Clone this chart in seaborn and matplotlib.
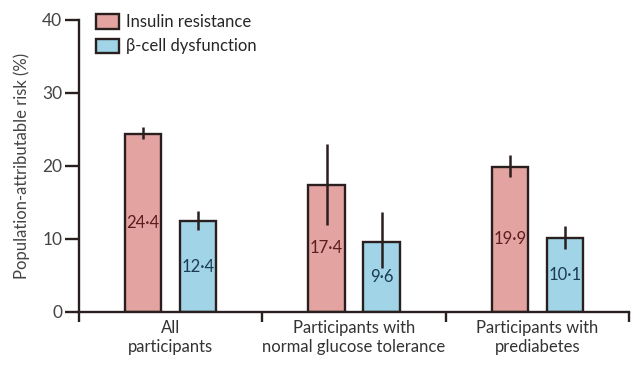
import matplotlib
matplotlib.use("Agg")
import matplotlib.pyplot as plt
import seaborn as sns
import pandas as pd
from matplotlib.ticker import FixedLocator

# ---- data ----
groups = ["All\nparticipants",
          "Participants with\nnormal glucose tolerance",
          "Participants with\nprediabetes"]
series = ["Insulin resistance", "\u03b2-cell dysfunction"]
ir_values = [24.4, 17.4, 19.9]
ir_low = [23.7, 11.9, 18.5]
ir_high = [25.3, 23.0, 21.5]
bcd_values = [12.4, 9.6, 10.1]
bcd_low = [11.2, 6.0, 8.6]
bcd_high = [13.8, 13.7, 11.8]
y_ticks = [0, 10, 20, 30, 40]

# ---- style ----
fill_colors = ["#e3a3a1", "#a0d4e6"]
label_colors = ["#5a1e1e", "#1b3b55"]
edge = "#2a1f1f"
text_gray = "#444444"

sns.set_theme(style="white")
plt.rcParams['font.family'] = ['Lato', 'DejaVu Sans']

df = pd.DataFrame({
    "group": groups * 2,
    "measure": [series[0]] * len(groups) + [series[1]] * len(groups),
    "value": ir_values + bcd_values,
})

fig, ax = plt.subplots(figsize=(6.4, 3.7), dpi=100)
fig.subplots_adjust(left=0.1234, right=0.983, bottom=0.157, top=0.946)

sns.barplot(data=df, x="group", y="value", hue="measure", order=groups,
            hue_order=series, palette=fill_colors, saturation=1, width=0.6,
            gap=0.34, errorbar=None, edgecolor=edge, linewidth=1.7, ax=ax)

lows = [ir_low, bcd_low]
highs = [ir_high, bcd_high]
vals = [ir_values, bcd_values]
for i, cont in enumerate(ax.containers):
    xs = [b.get_x() + b.get_width() / 2 for b in cont]
    ax.vlines(xs, lows[i], highs[i], color=edge, lw=1.8, zorder=4)
    ax.bar_label(cont, labels=[f"{v:.1f}".replace(".", "\u00b7") for v in vals[i]],
                 label_type="center", color=label_colors[i], fontsize=12)

ax.set_ylim(0, 40)
ax.set_xlim(-0.5, len(groups) - 0.5)
ax.yaxis.set_major_locator(FixedLocator(y_ticks))
ax.set_yticklabels([str(t) for t in y_ticks])
ax.tick_params(axis="y", direction="out", length=10, width=1.7, color=edge,
               labelsize=12.5, labelcolor=text_gray, pad=2, left=True)
ax.set_xticks(range(len(groups)))
ax.set_xticklabels(groups, fontsize=12, color="#333333", linespacing=1.25)
ax.tick_params(axis="x", which="major", length=0, pad=6)
ax.xaxis.set_minor_locator(FixedLocator([i - 0.5 for i in range(len(groups) + 1)]))
ax.tick_params(axis="x", which="minor", direction="out", length=7, width=1.7,
               color=edge, bottom=True)

for s in ["top", "right"]:
    ax.spines[s].set_visible(False)
for s in ["left", "bottom"]:
    ax.spines[s].set_color(edge)
    ax.spines[s].set_linewidth(1.7)

ax.set_xlabel("")
ax.set_ylabel("Population-attributable risk (%)", fontsize=12, color=text_gray,
              labelpad=9)

handles, labels = ax.get_legend_handles_labels()
for h in handles:
    h.set_edgecolor(edge)
    h.set_linewidth(1.7)
ax.legend(handles, labels, loc="upper left", bbox_to_anchor=(0.01, 1.06),
          frameon=False, fontsize=12, handlelength=1.35, handleheight=0.95,
          handletextpad=0.45, labelspacing=0.5, borderaxespad=0.3)

fig.savefig("out.png", dpi=100)
